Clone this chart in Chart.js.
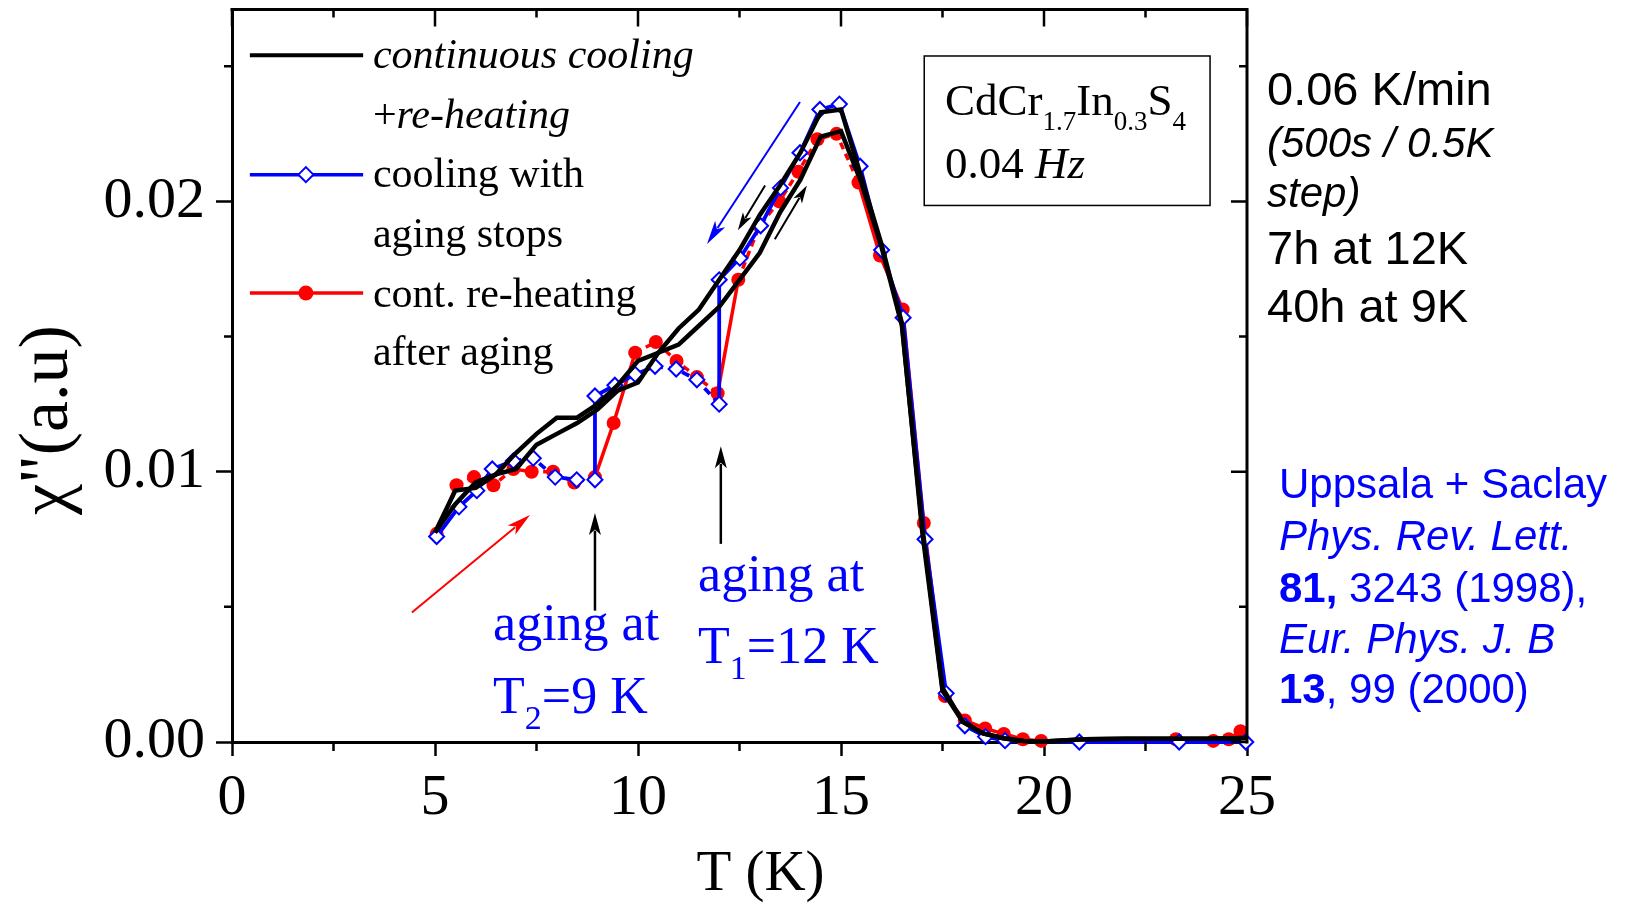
<!DOCTYPE html>
<html><head><meta charset="utf-8">
<script src="https://cdn.jsdelivr.net/npm/chart.js@4.4.1/dist/chart.umd.min.js"></script>
<style>html,body{margin:0;padding:0;background:#fff;overflow:hidden}</style>
</head><body>
<canvas id="c" width="1625" height="903"></canvas>
<script>
// ---- data ----
const blueT   = [5.04, 5.59, 6.03, 6.41, 6.93, 7.42, 7.96, 8.49, 8.94, 8.94, 9.43, 9.93, 10.42, 10.94, 11.45, 12.0, 12.0, 12.51, 13.02, 13.51, 13.99, 14.48, 14.96, 15.47, 16.0, 16.53, 17.07, 17.59, 18.05, 18.56, 19.04, 20.87, 23.33, 24.97];
const blueChi = [0.0076, 0.0087, 0.0093, 0.0101, 0.0104, 0.0105, 0.0098, 0.0097, 0.0097, 0.0128, 0.0132, 0.0136, 0.0139, 0.0138, 0.0134, 0.0125, 0.0171, 0.0179, 0.0191, 0.0205, 0.0218, 0.0234, 0.0236, 0.0213, 0.0182, 0.0157, 0.0075, 0.0018, 0.0006, 0.0002, 0.00005, 0.0, 0.0, 0.0];
const redT    = [5.04, 5.53, 5.96, 6.44, 6.93, 7.38, 7.91, 8.43, 8.94, 9.40, 9.93, 10.44, 10.95, 11.45, 11.96, 12.47, 12.99, 13.48, 13.95, 14.42, 14.89, 15.43, 15.96, 16.52, 17.04, 17.56, 18.05, 18.55, 19.01, 19.48, 19.93, 23.25, 24.17, 24.55, 24.84];
const redChi  = [0.0077, 0.0095, 0.0098, 0.0095, 0.0101, 0.0100, 0.0100, 0.0096, 0.0098, 0.0118, 0.0144, 0.0148, 0.0141, 0.0135, 0.0129, 0.0171, 0.0191, 0.0200, 0.0211, 0.0223, 0.0225, 0.0207, 0.0180, 0.0160, 0.0081, 0.0017, 0.0008, 0.0005, 0.0003, 0.0001, 0.00004, 0.0001, 0.00004, 0.0001, 0.0004];
const blackT   = [5, 5.5, 6, 6.5, 7, 7.5, 8, 8.5, 9, 9.5, 10, 10.5, 11, 11.5, 12, 12.5, 13, 13.5, 14, 14.5, 15, 15.5, 16, 16.5, 17, 17.5, 18, 18.5, 19, 19.5, 20, 21, 22, 23, 24, 25];
const coolChi  = [0.00775, 0.0093, 0.0094, 0.0099, 0.0107, 0.0114, 0.0120, 0.0120, 0.0125, 0.0132, 0.0141, 0.0144, 0.0147, 0.0154, 0.0161, 0.0171, 0.0181, 0.0196, 0.0208, 0.0224, 0.0226, 0.0207, 0.0183, 0.0154, 0.0080, 0.0020, 0.00075, 0.00032, 0.00014, 0.00004, 0.00002, 0.0001, 0.00012, 0.00012, 0.00012, 0.00015];
const heatChi  = [0.00775, 0.0088, 0.0096, 0.0099, 0.0101, 0.0110, 0.0114, 0.0118, 0.0123, 0.0130, 0.0133, 0.0144, 0.0153, 0.0160, 0.0171, 0.0182, 0.0195, 0.0206, 0.0218, 0.0233, 0.0234, 0.0209, 0.0184, 0.0155, 0.0078, 0.0019, 0.00075, 0.00032, 0.00014, 0.00004, 0.00002, 0.0001, 0.00012, 0.00012, 0.00012, 0.00015];
const xMajor = [0, 5, 10, 15, 20, 25];
const xMinor = [2.5, 7.5, 12.5, 17.5, 22.5];
const yMajor = [0, 0.01, 0.02];
const yMinor = [0.005, 0.015, 0.025];

const SERIF = '"Liberation Serif","Times New Roman",serif';
const SANS = '"Liberation Sans",Arial,sans-serif';
const zip = (a, b) => a.map((v, i) => ({x: v, y: b[i]}));

function arrow(ctx, x0, y0, x1, y1, color, lw, hl, hw) {
  const a = Math.atan2(y1 - y0, x1 - x0);
  ctx.save();
  ctx.strokeStyle = color; ctx.fillStyle = color; ctx.lineWidth = lw;
  ctx.beginPath();
  ctx.moveTo(x0, y0);
  ctx.lineTo(x1 - Math.cos(a) * hl * 0.8, y1 - Math.sin(a) * hl * 0.8);
  ctx.stroke();
  ctx.beginPath();
  ctx.moveTo(x1, y1);
  ctx.lineTo(x1 - Math.cos(a) * hl + Math.sin(a) * hw, y1 - Math.sin(a) * hl - Math.cos(a) * hw);
  ctx.lineTo(x1 - Math.cos(a) * hl * 0.75, y1 - Math.sin(a) * hl * 0.75);
  ctx.lineTo(x1 - Math.cos(a) * hl - Math.sin(a) * hw, y1 - Math.sin(a) * hl + Math.cos(a) * hw);
  ctx.closePath();
  ctx.fill();
  ctx.restore();
}

function runs(ctx, x, y, pieces, color) {
  ctx.fillStyle = color;
  ctx.textAlign = 'left';
  ctx.textBaseline = 'alphabetic';
  let cx = x;
  for (const [t, f, dy] of pieces) {
    ctx.font = f;
    ctx.fillText(t, cx, y + (dy || 0));
    cx += ctx.measureText(t).width;
  }
}

const decor = {
  id: 'decor',
  afterDraw(chart) {
    const ctx = chart.ctx;
    const xs = chart.scales.x, ys = chart.scales.y;
    const X = v => xs.getPixelForValue(v);
    const Y = v => ys.getPixelForValue(v);
    const a = chart.chartArea;
    ctx.save();
    ctx.strokeStyle = '#000'; ctx.lineWidth = 3; ctx.lineCap = 'butt';
    ctx.beginPath();
    ctx.moveTo(a.left - 1.5, a.top); ctx.lineTo(a.right + 1.5, a.top);
    ctx.moveTo(a.right, a.top); ctx.lineTo(a.right, a.bottom + 1.5);
    ctx.stroke();
    ctx.lineWidth = 2.5;
    ctx.beginPath();
    for (const v of yMinor) { ctx.moveTo(a.left - 8, Y(v)); ctx.lineTo(a.left, Y(v)); }
    for (const v of xMinor) { ctx.moveTo(X(v), a.bottom); ctx.lineTo(X(v), a.bottom + 9); }
    for (const v of yMajor) { ctx.moveTo(a.right - 16, Y(v)); ctx.lineTo(a.right, Y(v)); }
    for (const v of yMinor) { ctx.moveTo(a.right - 8, Y(v)); ctx.lineTo(a.right, Y(v)); }
    for (const v of xMajor) { ctx.moveTo(X(v), a.top); ctx.lineTo(X(v), a.top + 17); }
    for (const v of xMinor) { ctx.moveTo(X(v), a.top); ctx.lineTo(X(v), a.top + 8); }
    ctx.stroke();

    ctx.fillStyle = '#000';
    ctx.font = '57px ' + SERIF;
    ctx.textAlign = 'center'; ctx.textBaseline = 'alphabetic';
    ctx.fillText('T (K)', (a.left + a.right) / 2 + 21, 890);
    ctx.save();
    ctx.translate(67, 420);
    ctx.rotate(-Math.PI / 2);
    ctx.font = '70px ' + SERIF;
    ctx.fillText('\u03c7"(a.u)', 0, 0);
    ctx.restore();

    const lx0 = X(0.44), lx1 = X(3.23), mx = X(1.82), tx = X(3.47);
    ctx.lineWidth = 4; ctx.strokeStyle = '#000';
    ctx.beginPath(); ctx.moveTo(lx0, Y(0.02541)); ctx.lineTo(lx1, Y(0.02541)); ctx.stroke();
    ctx.lineWidth = 3.5; ctx.strokeStyle = '#0000ff';
    let yy = Y(0.02099);
    ctx.beginPath(); ctx.moveTo(lx0, yy); ctx.lineTo(lx1, yy); ctx.stroke();
    ctx.fillStyle = '#fff'; ctx.lineWidth = 2;
    ctx.beginPath(); ctx.moveTo(mx - 7.5, yy); ctx.lineTo(mx, yy - 7.5); ctx.lineTo(mx + 7.5, yy); ctx.lineTo(mx, yy + 7.5); ctx.closePath(); ctx.fill(); ctx.stroke();
    ctx.lineWidth = 3.5; ctx.strokeStyle = '#ff0000';
    yy = Y(0.01661);
    ctx.beginPath(); ctx.moveTo(lx0, yy); ctx.lineTo(lx1, yy); ctx.stroke();
    ctx.fillStyle = '#ff0000';
    ctx.beginPath(); ctx.arc(mx, yy, 7.5, 0, Math.PI * 2); ctx.fill();
    const fI = 'italic 42px ' + SERIF, fN = '42px ' + SERIF;
    runs(ctx, tx, Y(0.02494), [['continuous cooling', fI]], '#000');
    runs(ctx, tx, Y(0.02273), [['+', fN], ['re-heating', fI]], '#000');
    runs(ctx, tx, Y(0.02052), [['cooling with', fN]], '#000');
    runs(ctx, tx, Y(0.01831), [['aging stops', fN]], '#000');
    runs(ctx, tx, Y(0.0161), [['cont. re-heating', fN]], '#000');
    runs(ctx, tx, Y(0.01396), [['after aging', fN]], '#000');

    ctx.lineWidth = 1.5; ctx.strokeStyle = '#000';
    ctx.strokeRect(X(17.05), Y(0.02538), X(24.09) - X(17.05), Y(0.01985) - Y(0.02538));
    const fB = '45px ' + SERIF, fS = '27px ' + SERIF;
    runs(ctx, X(17.56), Y(0.0232), [['CdCr', fB], ['1.7', fS, 15], ['In', fB], ['0.3', fS, 15], ['S', fB], ['4', fS, 15]], '#000');
    runs(ctx, X(17.56), Y(0.02088), [['0.04 ', fB], ['Hz', 'italic 45px ' + SERIF]], '#000');

    arrow(ctx, X(8.94), Y(0.00486), X(8.94), Y(0.00847), '#000', 2.5, 22, 6);
    arrow(ctx, X(12.04), Y(0.00733), X(12.04), Y(0.01094), '#000', 2.5, 22, 6);
    arrow(ctx, X(4.43), Y(0.00479), X(7.34), Y(0.0084), '#ff0000', 2, 24, 6);
    arrow(ctx, X(13.99), Y(0.02368), X(11.70), Y(0.01842), '#0000ff', 2, 24, 6);
    arrow(ctx, X(13.13), Y(0.02059), X(12.46), Y(0.01893), '#000', 2, 18, 5);
    arrow(ctx, X(13.37), Y(0.0186), X(14.16), Y(0.02059), '#000', 2, 18, 5);

    const fA = '52px ' + SERIF, fAs = '34px ' + SERIF;
    runs(ctx, X(6.43), Y(0.00376), [['aging at', fA]], '#0000ff');
    runs(ctx, X(6.43), Y(0.00107), [['T', fA], ['2', fAs, 16], ['=9 K', fA]], '#0000ff');
    runs(ctx, X(11.48), Y(0.0056), [['aging at', fA]], '#0000ff');
    runs(ctx, X(11.48), Y(0.00291), [['T', fA], ['1', fAs, 16], ['=12 K', fA]], '#0000ff');

    const rx = a.right + 20;
    const s46 = '47px ' + SANS, si42 = 'italic 42px ' + SANS;
    runs(ctx, rx, 105, [['0.06 K/min', s46]], '#000');
    runs(ctx, rx, 157, [['(500s / 0.5K', si42]], '#000');
    runs(ctx, rx, 207, [['step)', si42]], '#000');
    runs(ctx, rx, 264, [['7h at 12K', s46]], '#000');
    runs(ctx, rx, 322, [['40h at 9K', s46]], '#000');
    const bx = a.right + 32;
    const s42 = '42px ' + SANS, sb42 = 'bold 42px ' + SANS;
    runs(ctx, bx, 498, [['Uppsala + Saclay', s42]], '#0000ff');
    runs(ctx, bx, 550, [['Phys. Rev. Lett.', si42]], '#0000ff');
    runs(ctx, bx, 602, [['81,', sb42], [' 3243 (1998),', s42]], '#0000ff');
    runs(ctx, bx, 653, [['Eur. Phys. J. B', si42]], '#0000ff');
    runs(ctx, bx, 703, [['13', sb42], [', 99 (2000)', s42]], '#0000ff');
    ctx.restore();
  }
};

const blueDash = c => {
  const a = c.p0.parsed.x, b = c.p1.parsed.x;
  if (a === b) return undefined;
  if ((a >= 6.9 && b <= 8.95) || (a >= 10.4 && b <= 12.01)) return [8, 6];
  return undefined;
};
const redDash = c => {
  const a = c.p0.parsed.x, b = c.p1.parsed.x;
  if ((a >= 5.5 && b <= 8.95) || (a >= 9.9 && b <= 11.97) || (a >= 12.4 && b <= 15.5)) return [7, 5];
  return undefined;
};

new Chart(document.getElementById('c'), {
  type: 'line',
  data: {
    datasets: [
      {label: 'continuous cooling', data: zip(blackT, coolChi), borderColor: '#000', borderWidth: 4.5, pointRadius: 0, order: 1, clip: 12},
      {label: '+re-heating', data: zip(blackT, heatChi), borderColor: '#000', borderWidth: 4.5, pointRadius: 0, order: 1, clip: 12},
      {label: 'cooling with aging stops', data: zip(blueT, blueChi), borderColor: '#0000ff', borderWidth: 3.8,
       pointStyle: 'rectRot', pointRadius: 7.5, pointBorderWidth: 2, pointBackgroundColor: '#fff', pointBorderColor: '#0000ff',
       order: 2, clip: 12, segment: {borderDash: blueDash}},
      {label: 'cont. re-heating after aging', data: zip(redT, redChi), borderColor: '#ff0000', borderWidth: 3.5,
       pointStyle: 'circle', pointRadius: 7, pointBorderWidth: 0, pointBackgroundColor: '#ff0000',
       order: 3, clip: 12, segment: {borderDash: redDash}}
    ]
  },
  options: {
    responsive: false, animation: false, events: [],
    layout: {padding: {left: 0, top: 7, right: 378, bottom: 0}},
    plugins: {legend: {display: false}, tooltip: {enabled: false}},
    scales: {
      x: {type: 'linear', min: 0, max: 25,
          ticks: {stepSize: 5, includeBounds: false, maxRotation: 0, color: '#000', padding: 8, font: {family: SERIF, size: 58}},
          grid: {drawOnChartArea: false, tickLength: 14, tickWidth: 2.5, tickColor: '#000'},
          border: {color: '#000', width: 3},
          afterFit(s) { s.height = 161; s.paddingLeft = 0; s.paddingRight = 0; }},
      y: {type: 'linear', min: 0, max: 0.0271,
          ticks: {stepSize: 0.01, includeBounds: false, color: '#000', padding: 11, font: {family: SERIF, size: 58},
                  callback: v => v.toFixed(2)},
          grid: {drawOnChartArea: false, tickLength: 16, tickWidth: 2.5, tickColor: '#000'},
          border: {color: '#000', width: 3},
          afterFit(s) { s.width = 232; s.paddingTop = 0; s.paddingBottom = 0; }}
    }
  },
  plugins: [decor]
});
</script>
</body></html>
